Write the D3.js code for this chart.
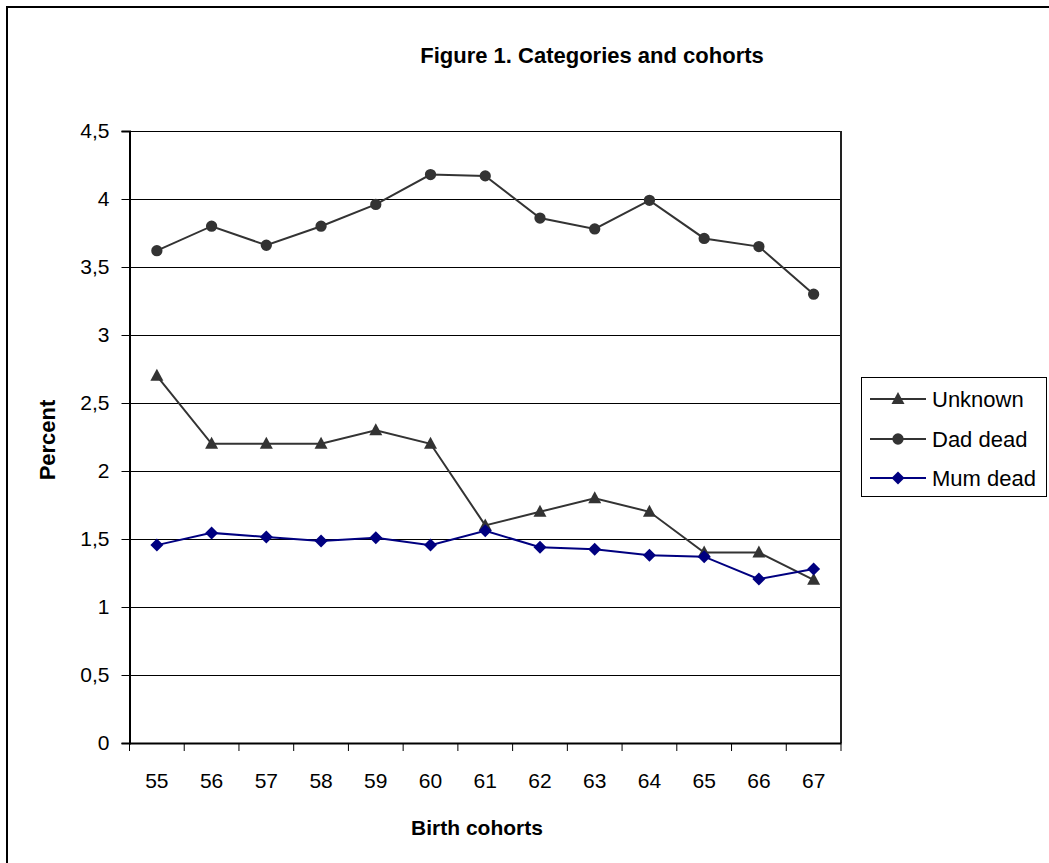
<!DOCTYPE html>
<html>
<head>
<meta charset="utf-8">
<script src="https://cdn.jsdelivr.net/npm/d3@7"></script>
<style>
  html, body { margin: 0; padding: 0; background: #fff; }
  svg { display: block; }
  text { font-family: "Liberation Sans", Arial, sans-serif; fill: #000; }
</style>
</head>
<body>
<svg id="chart" width="1049" height="863"></svg>
<script>
const cohorts = ["55","56","57","58","59","60","61","62","63","64","65","66","67"];
const unknown = [2.7, 2.2, 2.2, 2.2, 2.3, 2.2, 1.6, 1.7, 1.8, 1.7, 1.4, 1.4, 1.2];
const dadDead = [3.62, 3.80, 3.66, 3.80, 3.96, 4.18, 4.17, 3.86, 3.78, 3.99, 3.71, 3.65, 3.30];
const mumDead = [1.455, 1.545, 1.515, 1.485, 1.51, 1.455, 1.56, 1.44, 1.425, 1.38, 1.37, 1.205, 1.28];
const yTicks = [0, 0.5, 1, 1.5, 2, 2.5, 3, 3.5, 4, 4.5];
const yTickLabels = ["0", "0,5", "1", "1,5", "2", "2,5", "3", "3,5", "4", "4,5"];
const seriesNames = ["Unknown", "Dad dead", "Mum dead"];
const seriesColors = ["#333333", "#333333", "#000080"];
const seriesMarkers = ["triangle", "circle", "diamond"];
const titleText = "Figure 1. Categories and cohorts";
const xTitle = "Birth cohorts";
const yTitle = "Percent";

const series = [unknown, dadDead, mumDead];

const svg = d3.select("#chart");
const plot = {left: 129.5, right: 841, top: 131, bottom: 743};

// outer frame
svg.append("rect").attr("x", 7).attr("y", 7).attr("width", 1100).attr("height", 900)
  .attr("fill", "#fff").attr("stroke", "#000").attr("stroke-width", 2);

const x = d3.scaleBand().domain(cohorts).range([plot.left, plot.right]).paddingInner(0).paddingOuter(0);
const y = d3.scaleLinear().domain([0, 4.5]).range([plot.bottom, plot.top]);

// gridlines
svg.append("g").selectAll("line").data(yTicks.filter(d => d > 0)).join("line")
  .attr("x1", plot.left).attr("x2", plot.right)
  .attr("y1", d => Math.round(y(d)) + 0.5).attr("y2", d => Math.round(y(d)) + 0.5)
  .attr("stroke", "#000").attr("stroke-width", 1);

// right border
svg.append("line").attr("x1", plot.right).attr("x2", plot.right)
  .attr("y1", plot.top).attr("y2", plot.bottom).attr("stroke", "#222").attr("stroke-width", 2);

// y axis
const yAxis = d3.axisLeft(y).tickValues(yTicks).tickSize(8).tickPadding(12)
  .tickFormat((d, i) => yTickLabels[i]);
const gy = svg.append("g").attr("transform", `translate(${plot.left},0)`).call(yAxis);
gy.select(".domain").attr("stroke", "#000").attr("stroke-width", 2);
gy.selectAll(".tick line").attr("stroke", "#000").attr("stroke-width", 1);
gy.selectAll(".tick text").style("font-size", "21px").attr("fill", "#000")
  .style("font-family", "Liberation Sans, Arial, sans-serif");

// x axis
const xAxis = d3.axisBottom(x).tickSize(0).tickPadding(30);
const gx = svg.append("g").attr("transform", `translate(0,${plot.bottom})`).call(xAxis);
gx.select(".domain").attr("stroke", "#000").attr("stroke-width", 2);
gx.selectAll(".tick text").style("font-size", "21px").attr("fill", "#000")
  .style("font-family", "Liberation Sans, Arial, sans-serif");
// x tick marks at band boundaries
const bounds = cohorts.map(c => x(c)).concat([x(cohorts[cohorts.length - 1]) + x.bandwidth()]);
svg.append("g").selectAll("line").data(bounds).join("line")
  .attr("x1", d => d).attr("x2", d => d)
  .attr("y1", plot.bottom).attr("y2", plot.bottom + 8)
  .attr("stroke", "#000").attr("stroke-width", 1);

// markers
function markerPath(type) {
  if (type === "triangle") return "M0,-7L6.5,5L-6.5,5Z";
  if (type === "circle") return d3.symbol(d3.symbolCircle, 100)();
  return "M0,-6.5L6.5,0L0,6.5L-6.5,0Z";
}

const cx = c => x(c) + x.bandwidth() / 2;
const line = d3.line().x((d, i) => cx(cohorts[i])).y(d => y(d));

series.forEach((vals, si) => {
  const g = svg.append("g");
  g.append("path").datum(vals).attr("d", line).attr("fill", "none")
    .attr("stroke", seriesColors[si]).attr("stroke-width", 2);
  g.selectAll("path.m").data(vals).join("path").attr("class", "m")
    .attr("d", markerPath(seriesMarkers[si]))
    .attr("transform", (d, i) => `translate(${cx(cohorts[i])},${y(d)})`)
    .attr("fill", seriesColors[si]);
});

// title
svg.append("text").attr("x", 592).attr("y", 63).attr("text-anchor", "middle")
  .style("font-size", "22px").style("font-weight", "bold").text(titleText);
// axis titles
svg.append("text").attr("x", 477).attr("y", 835).attr("text-anchor", "middle")
  .style("font-size", "21px").style("font-weight", "bold").text(xTitle);
svg.append("text").attr("transform", "translate(55,440) rotate(-90)").attr("text-anchor", "middle")
  .style("font-size", "22px").style("font-weight", "bold").text(yTitle);

// legend
const lg = svg.append("g");
lg.append("rect").attr("x", 861.5).attr("y", 377.5).attr("width", 185).attr("height", 119)
  .attr("fill", "#fff").attr("stroke", "#000").attr("stroke-width", 1);
const legY = [399, 439, 478];
seriesNames.forEach((name, i) => {
  lg.append("line").attr("x1", 870).attr("x2", 926).attr("y1", legY[i]).attr("y2", legY[i])
    .attr("stroke", seriesColors[i]).attr("stroke-width", 2);
  lg.append("path").attr("d", markerPath(seriesMarkers[i]))
    .attr("transform", `translate(898,${legY[i]})`).attr("fill", seriesColors[i]);
  lg.append("text").attr("x", 932).attr("y", legY[i] + 8)
    .style("font-size", "22px").text(name);
});
</script>
</body>
</html>
